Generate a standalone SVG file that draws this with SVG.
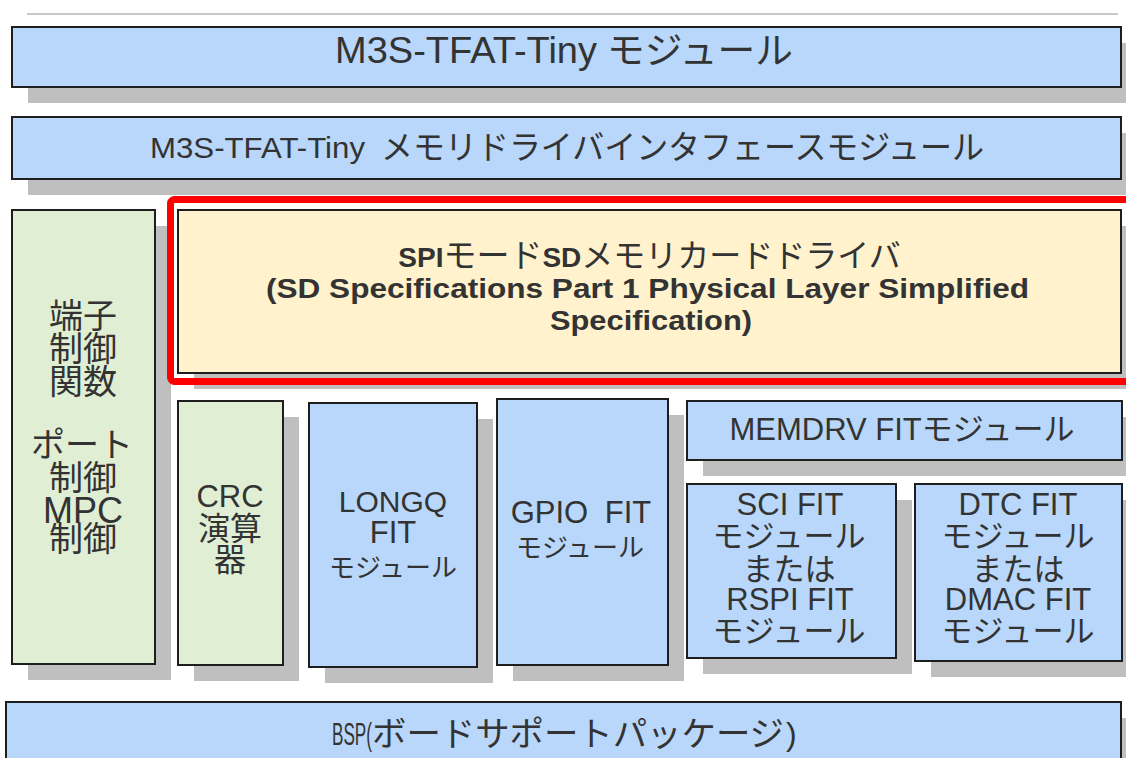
<svg xmlns="http://www.w3.org/2000/svg" width="1126" height="758" viewBox="0 0 1126 758">
<style>
.box{stroke:#1e1e1e;stroke-width:2}
.blue{fill:#b8d7fa}
.green{fill:#e0eed4}
.yellow{fill:#fff2cc}
.sh{fill:#bfbfbf}
.t{font-family:'Liberation Sans','Noto Sans CJK JP',sans-serif;fill:#333;text-anchor:middle}
.s{text-anchor:start}
.j{font-family:'Noto Sans CJK JP','Liberation Sans',sans-serif}
.b{font-weight:bold}
</style>
<rect width="1126" height="758" fill="#ffffff"/>
<line x1="27" y1="14" x2="1118" y2="14" stroke="#c8c8c8" stroke-width="2"/>

<g id="m3s-tfat-tiny">
<rect class="sh" x="28" y="43" width="1109" height="60"/>
<rect class="box blue" x="12" y="27" width="1109" height="60"/>
<text class="t s" x="335" y="63" font-size="37" textLength="262" lengthAdjust="spacingAndGlyphs">M3S-TFAT-Tiny</text>
<text class="t s j" x="607" y="64" font-size="37" textLength="186" lengthAdjust="spacingAndGlyphs">モジュール</text>
</g>

<g id="memory-driver-interface">
<rect class="sh" x="28" y="133" width="1109" height="62"/>
<rect class="box blue" x="12" y="117" width="1109" height="62"/>
<text class="t s" x="150" y="158" font-size="30" textLength="215" lengthAdjust="spacingAndGlyphs">M3S-TFAT-Tiny</text>
<text class="t s j" x="381" y="159" font-size="33" textLength="603" lengthAdjust="spacingAndGlyphs">メモリドライバインタフェースモジュール</text>
</g>

<g id="terminal-control">
<rect class="sh" x="28" y="226" width="143" height="454"/>
<rect class="box green" x="12" y="210" width="143" height="454"/>
<g class="t j" font-size="34">
<text x="83" y="328">端子</text>
<text x="83" y="361">制御</text>
<text x="83" y="394">関数</text>
<text x="82" y="457">ポート</text>
<text x="83" y="490">制御</text>
<text x="83" y="551">制御</text>
</g>
<text class="t" x="83" y="523" font-size="36">MPC</text>
</g>

<g id="sd-driver">
<rect class="sh" x="194" y="226" width="943" height="163"/>
<rect class="box yellow" x="178" y="210" width="943" height="163"/>
<text class="t" x="649.5" y="267" font-size="28"><tspan class="b">SPI</tspan><tspan class="j" font-size="33">モード</tspan><tspan class="b">SD</tspan><tspan class="j" font-size="32">メモリカードドライバ</tspan></text>
<text class="t s b" x="266" y="298" font-size="28" textLength="763" lengthAdjust="spacingAndGlyphs">(SD Specifications Part 1 Physical Layer Simplified</text>
<text class="t s b" x="550" y="330" font-size="28" textLength="202" lengthAdjust="spacingAndGlyphs">Specification)</text>
</g>

<g id="crc">
<rect class="sh" x="194" y="417" width="105" height="264"/>
<rect class="box green" x="178" y="401" width="105" height="264"/>
<text class="t" x="230" y="507" font-size="31">CRC</text>
<text class="t j" x="230" y="540" font-size="32">演算</text>
<text class="t j" x="230" y="571" font-size="32">器</text>
</g>

<g id="longq">
<rect class="sh" x="325" y="419" width="168" height="264"/>
<rect class="box blue" x="309" y="403" width="168" height="264"/>
<text class="t" x="393" y="512" font-size="30">LONGQ</text>
<text class="t" x="393" y="543" font-size="31">FIT</text>
<text class="t j" x="393" y="577" font-size="26">モジュール</text>
</g>

<g id="gpio">
<rect class="sh" x="513" y="415" width="171" height="266"/>
<rect class="box blue" x="497" y="399" width="171" height="266"/>
<text class="t" x="581" y="523" font-size="31" word-spacing="8">GPIO FIT</text>
<text class="t j" x="580" y="557" font-size="26">モジュール</text>
</g>

<g id="memdrv">
<rect class="sh" x="703" y="417" width="435" height="59"/>
<rect class="box blue" x="687" y="401" width="435" height="59"/>
<text class="t" x="902" y="440" font-size="31">MEMDRV FIT<tspan class="j">モジュール</tspan></text>
</g>

<g id="sci-rspi">
<rect class="sh" x="703" y="500" width="209" height="174"/>
<rect class="box blue" x="687" y="484" width="209" height="174"/>
<g class="t" font-size="31">
<text x="790" y="515">SCI FIT</text>
<text class="j" x="789" y="547">モジュール</text>
<text class="j" x="789" y="580">または</text>
<text x="790" y="610">RSPI FIT</text>
<text class="j" x="789" y="642">モジュール</text>
</g>
</g>

<g id="dtc-dmac">
<rect class="sh" x="931" y="500" width="207" height="177"/>
<rect class="box blue" x="915" y="484" width="207" height="177"/>
<g class="t" font-size="31">
<text x="1018" y="515">DTC FIT</text>
<text class="j" x="1018" y="547">モジュール</text>
<text class="j" x="1018" y="580">または</text>
<text x="1018" y="610">DMAC FIT</text>
<text class="j" x="1018" y="642">モジュール</text>
</g>
</g>

<g id="bsp">
<rect class="sh" x="22" y="718" width="1115" height="70"/>
<rect class="box blue" x="6" y="702" width="1115" height="70"/>
<text class="t s" x="332" y="745" font-size="32" textLength="40" lengthAdjust="spacingAndGlyphs">BSP(</text>
<text class="t s j" x="372" y="746" font-size="34" textLength="412" lengthAdjust="spacingAndGlyphs">ボードサポートパッケージ</text>
<text class="t s" x="786" y="745" font-size="32">)</text>
</g>

<g id="highlight">
<rect x="170.5" y="199.5" width="970" height="182" rx="4" fill="none" stroke="#ff0000" stroke-width="7"/>
</g>

<g id="connectors"/>
</svg>
